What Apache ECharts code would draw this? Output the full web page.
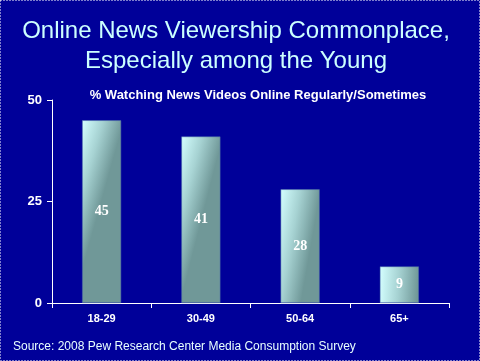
<!DOCTYPE html>
<html><head><meta charset="utf-8">
<script src="https://cdn.jsdelivr.net/npm/echarts@6/dist/echarts.min.js"></script>
<style>html,body{margin:0;padding:0;background:#000099;}#c{width:480px;height:361px;}</style>
</head><body><div id="c"></div>
<script>
const categories = ['18-29', '30-49', '50-64', '65+'];
const values = [45, 41, 28, 9];
const yTicks = [0, 25, 50];

const chart = echarts.init(document.getElementById('c'));
chart.setOption({
  backgroundColor: '#000099',
  animation: false,
  title: [
    {
      text: 'Online News Viewership Commonplace,\nEspecially among the Young',
      left: 231, top: 11, textAlign: 'center',
      textStyle: { color: '#ccffff', fontFamily: 'Arial, Liberation Sans', fontSize: 24, fontWeight: 'normal', lineHeight: 30,
        textShadowColor: '#000000', textShadowOffsetX: 1, textShadowOffsetY: 1, textShadowBlur: 0 }
    },
    {
      text: '% Watching News Videos Online Regularly/Sometimes',
      left: 253, top: 84, textAlign: 'center',
      textStyle: { color: '#ffffff', fontFamily: 'Arial, Liberation Sans', fontSize: 13, fontWeight: 'bold',
        textShadowColor: '#000000', textShadowOffsetX: 1, textShadowOffsetY: 1, textShadowBlur: 0 }
    },
    {
      text: 'Source: 2008 Pew Research Center Media Consumption Survey',
      left: 8, top: 336,
      textStyle: { color: '#e8ffff', fontFamily: 'Arial, Liberation Sans', fontSize: 12, fontWeight: 'normal' }
    }
  ],
  graphic: [{
    type: 'rect', shape: { x: 0.5, y: 0.5, width: 479, height: 360 },
    style: { fill: 'none', stroke: '#ffffff', lineWidth: 1, lineDash: [1, 2] }, silent: true
  }],
  grid: { left: 52, right: 31, top: 100, bottom: 58 },
  xAxis: {
    type: 'category', data: categories,
    axisLine: { lineStyle: { color: '#ffffff', width: 1 } },
    axisTick: { show: true, length: 5, alignWithLabel: false, lineStyle: { color: '#ffffff' } },
    axisLabel: { color: '#ffffff', fontFamily: 'Arial, Liberation Sans', fontSize: 11, fontWeight: 'bold', margin: 10 }
  },
  yAxis: {
    type: 'value', min: yTicks[0], max: yTicks[yTicks.length - 1], interval: 25,
    axisLine: { show: true, lineStyle: { color: '#ffffff', width: 1 } },
    axisTick: { show: true, length: 5, lineStyle: { color: '#ffffff' } },
    splitLine: { show: false },
    axisLabel: { color: '#ffffff', fontFamily: 'Arial, Liberation Sans', fontSize: 13, fontWeight: 'bold', margin: 10 }
  },
  series: [{
    type: 'bar', data: values, barWidth: 39,
    itemStyle: {
      color: new echarts.graphic.LinearGradient(0, 0, 1, 0.06, [
        { offset: 0, color: '#d4ffff' },
        { offset: 0.5, color: '#a6d2d2' },
        { offset: 1, color: '#709898' }
      ]),
      borderColor: '#4a6aa8', borderWidth: 0.5
    },
    label: { show: true, position: 'inside', color: '#ffffff', fontFamily: 'Times New Roman, Liberation Serif', fontSize: 14, fontWeight: 'bold' }
  }]
});
</script></body></html>
